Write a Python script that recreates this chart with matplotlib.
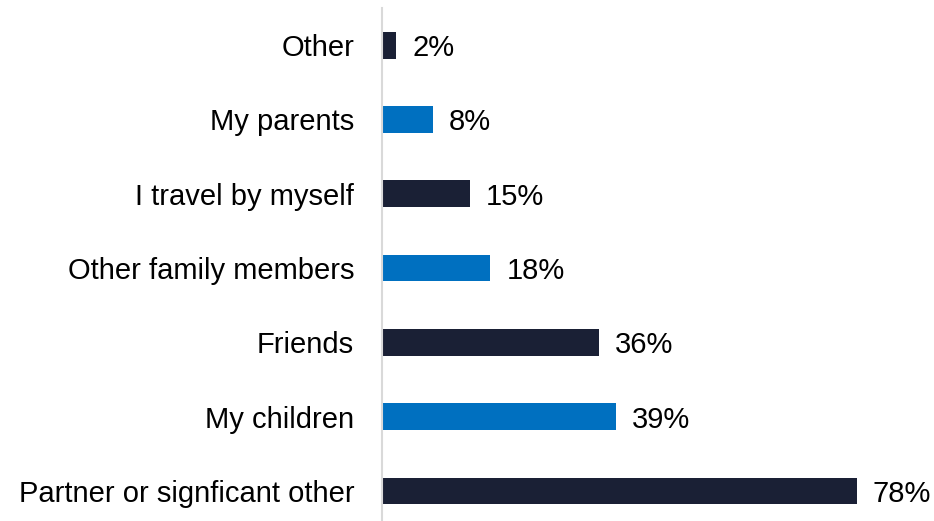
import matplotlib
matplotlib.use("Agg")
import matplotlib.pyplot as plt

categories = ["Other", "My parents", "I travel by myself", "Other family members",
              "Friends", "My children", "Partner or signficant other"]
values = [2.3, 8.4, 14.4, 17.8, 35.7, 38.4, 78.0]
labels = ["2%", "8%", "15%", "18%", "36%", "39%", "78%"]
colors = ["#1a2035", "#0070c0", "#1a2035", "#0070c0", "#1a2035", "#0070c0", "#1a2035"]

plt.rcParams['font.family'] = ['Liberation Sans', 'DejaVu Sans']

fig = plt.figure(figsize=(9.34, 5.21), dpi=100)
ax = fig.add_axes([382/934, 0, 487/934, 513/521])

y = list(range(len(categories)))
ax.barh(y, values, height=0.36, color=colors)
ax.set_xlim(0, 80)
ax.set_ylim(-0.5 + 513/74.3, -0.5)

for yi, v, lab in zip(y, values, labels):
    ax.annotate(lab, xy=(v, yi), xytext=(16, 0), textcoords="offset pixels",
                va="center_baseline", ha="left", fontsize=21, color="#000000")

ax.set_yticks(y)
ax.set_yticklabels(categories, fontsize=21, va="center_baseline")
ax.tick_params(axis='y', length=0, pad=20)
ax.set_xticks([])
for s in ["top", "right", "bottom"]:
    ax.spines[s].set_visible(False)
ax.spines["left"].set_color("#d9d9d9")
ax.spines["left"].set_linewidth(1.5)

fig.savefig("out.png", dpi=100)
